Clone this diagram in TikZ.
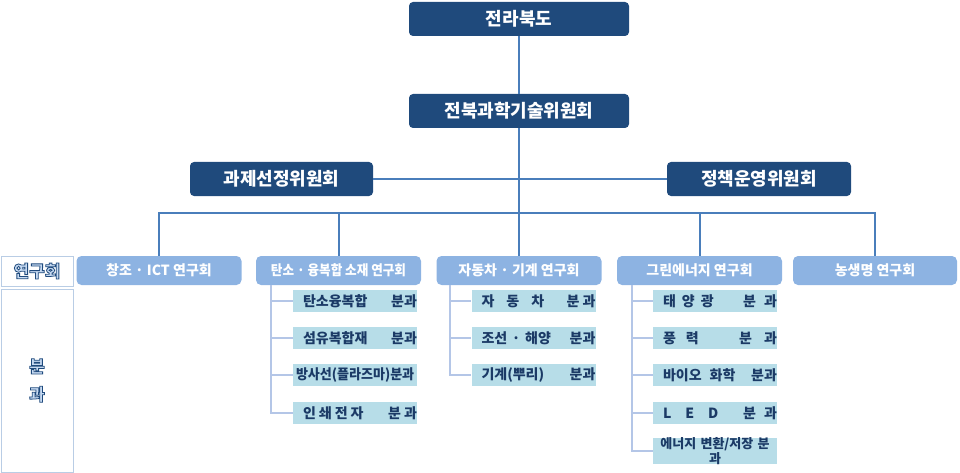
\documentclass[tikz,border=0pt]{standalone}
\usepackage{fontspec}
\usepackage{graphicx}
\setmainfont{Noto Sans CJK KR}
\definecolor{navy}{HTML}{1F4A7C}
\definecolor{linkc}{HTML}{4A7EBB}
\definecolor{rbox}{HTML}{8DB3E2}
\definecolor{sbox}{HTML}{B7DDE8}
\definecolor{stxt}{HTML}{1B3A66}
\definecolor{treec}{HTML}{B4C6E7}
\definecolor{lbord}{HTML}{B9CDE5}
\definecolor{lfill}{HTML}{C6DAF2}
\newcommand\outl[1]{\special{pdf:literal 0.12 0.29 0.49 RG 0.8 w 2 Tr}#1\special{pdf:literal 0 Tr}}
\begin{document}
\begin{tikzpicture}[x=1pt,y=-1pt,
  topbox/.style={fill=navy, rounded corners=4pt, text=white, font=\fontsize{18}{20}\selectfont\bfseries, minimum height=34pt, inner sep=0pt},
  resbox/.style={fill=rbox, rounded corners=5pt, text=white, font=\fontsize{14}{16}\selectfont\bfseries, minimum width=165pt, minimum height=29pt, inner sep=0pt},
  subbox/.style={fill=sbox, text=stxt, font=\fontsize{14}{15}\selectfont\bfseries, text width=124pt, minimum height=22pt, inner xsep=0pt, inner ysep=0pt, align=left},
  subboxtwo/.style={fill=sbox, text=stxt, font=\fontsize{13}{12.5}\selectfont\bfseries, text width=124pt, minimum height=24pt, inner xsep=0pt, inner ysep=0pt, align=center},
  link/.style={draw=linkc, line width=2pt},
  treeline/.style={draw=treec, line width=2pt},
  lblbox/.style={draw=lbord, line width=0.8pt, fill=white, text=lfill, font=\fontsize{17}{28}\selectfont\bfseries, align=center, inner sep=0pt}
]
\useasboundingbox (0,0) rectangle (960,473);

% top hierarchy
\node[topbox, minimum width=220pt] (top) at (519,19) {전라북도};
\node[topbox, minimum width=220pt] (sci) at (519,111) {전북과학기술위원회};
\node[topbox, minimum width=183pt] (sel) at (281.5,179) {과제선정위원회};
\node[topbox, minimum width=184pt] (pol) at (759,179) {정책운영위원회};

% research groups
\node[resbox] (r1) at (159,270.5) {창조 · ICT 연구회};
\node[resbox] (r2) at (338.5,270.5) {\scalebox{0.9}[1]{탄소 · 융복합 소재 연구회}};
\node[resbox] (r3) at (519,270.5) {자동차 · 기계 연구회};
\node[resbox] (r4) at (699.5,270.5) {그린에너지 연구회};
\node[resbox, minimum width=164pt] (r5) at (875,270.5) {농생명 연구회};

\coordinate (bus) at (519,213);

% connectors
\draw[link] (top.south) -- (sci.north);
\draw[link] (sel.east) -- (pol.west);
\draw[link] (sci.south) -- (r3.north);
\draw[link] (r1.north) -- (r1.north |- bus) -- (r5.north |- bus) -- (r5.north);
\draw[link] (r2.north) -- (r2.north |- bus);
\draw[link] (r4.north) -- (r4.north |- bus);

% labels
\node[lblbox, minimum width=72pt, minimum height=30pt] (lab1) at (37,271) {\outl{연구회}};
\node[lblbox, minimum width=72pt, minimum height=183pt] (lab2) at (37,380.5) {\outl{분}\\\outl{과}};

% column 2 sub groups
\node[subbox] (s21) at (355,301) {\hspace*{10pt}탄소융복합\hfill 분과};
\node[subbox] (s22) at (355,338) {\hspace*{10pt}섬유복합재\hfill 분과};
\node[subbox] (s23) at (355,375) {\hspace*{3pt}\scalebox{0.93}[1]{방사선(플라즈마)분과}};
\node[subbox] (s24) at (355,413) {\hspace*{10pt}인\hspace{3pt}쇄\hspace{3pt}전\hspace{3pt}자\hfill 분\hspace{3pt}과};

% column 3 sub groups
\node[subbox] (s31) at (533.5,301) {\hspace*{10pt}자\hspace{12pt}동\hspace{12pt}차\hfill 분\hspace{3pt}과};
\node[subbox] (s32) at (533.5,338) {\hspace*{10pt}조선 · 해양\hfill 분과};
\node[subbox] (s33) at (533.5,375) {\hspace*{10pt}기계(뿌리)\hfill 분과};

% column 4 sub groups
\node[subbox] (s41) at (715,301) {\hspace*{10pt}태\hspace{6pt}양\hspace{6pt}광\hfill 분\hspace{8pt}과};
\node[subbox] (s42) at (715,338) {\hspace*{10pt}풍\hspace{10pt}력\hfill 분\hspace{12pt}과};
\node[subbox] (s43) at (715,375) {\hspace*{10pt}바이오\hspace{8pt}화학\hfill 분과};
\node[subbox] (s44) at (715,413) {\hspace*{10pt}L\hspace{14pt}E\hspace{14pt}D\hfill 분\hspace{8pt}과};
\node[subboxtwo] (s45) at (715,451) {에너지 변환/저장 분\\과};

% tree lines
\coordinate (t2) at ([xshift=-68pt]r2.south);
\coordinate (t3) at ([xshift=-69pt]r3.south);
\coordinate (t4) at ([xshift=-68pt]r4.south);
\draw[treeline] (t2) |- (s24.west);
\foreach \n in {s21,s22,s23} \draw[treeline] (t2 |- \n.west) -- (\n.west);
\draw[treeline] (t3) |- (s33.west);
\foreach \n in {s31,s32} \draw[treeline] (t3 |- \n.west) -- (\n.west);
\draw[treeline] (t4) |- (s45.west);
\foreach \n in {s41,s42,s43,s44} \draw[treeline] (t4 |- \n.west) -- (\n.west);
\end{tikzpicture}
\end{document}
